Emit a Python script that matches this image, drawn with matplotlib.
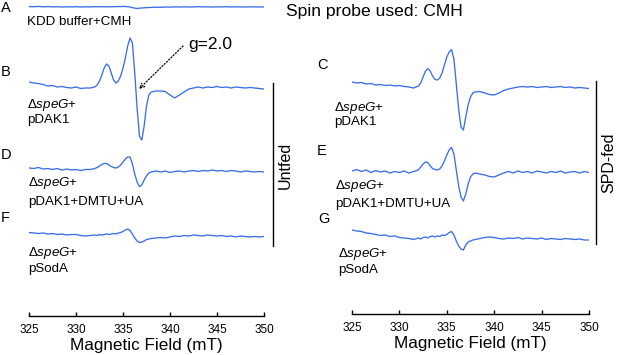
import matplotlib
matplotlib.use("Agg")
import matplotlib.pyplot as plt
from matplotlib.lines import Line2D

plt.rcParams['font.family'] = ['Liberation Sans', 'DejaVu Sans']
plt.rcParams['mathtext.fontset'] = 'custom'
plt.rcParams['mathtext.rm'] = 'Liberation Sans'
plt.rcParams['mathtext.it'] = 'Liberation Sans:italic'

# magnetic field grid (mT)
field = [325.0, 325.5, 326.0, 326.5, 327.0, 327.5, 328.0, 328.5, 329.0, 329.5,
         330.0, 330.5, 331.0, 331.5, 332.0,
         332.25, 332.5, 332.75, 333.0, 333.25, 333.5, 333.75, 334.0, 334.25, 334.5,
         334.75, 335.0, 335.25, 335.5, 335.75, 336.0, 336.25, 336.5, 336.75, 337.0,
         337.25, 337.5, 337.75, 338.0,
         338.5, 339.0, 339.5, 340.0, 340.5, 341.0, 341.5, 342.0, 342.5, 343.0,
         343.5, 344.0, 344.5, 345.0, 345.5, 346.0, 346.5, 347.0, 347.5, 348.0,
         348.5, 349.0, 349.5, 350.0]

# EPR signal (a.u.), one list per sample
sig_A = [0.5, 0.3, 0.6, 0.2, 0.4, 0.1, 0.3, 0.0, 0.2, 0.1,
         0.3, 0.0, 0.2, 0.1, 0.3,
         0.2, 0.4, 0.2, 0.3, 0.1, 0.3, 0.2, 0.4, 0.3, 0.5,
         0.4, 0.6, 0.5, 0.3, 0.0, -0.6, -1.2, -1.4, -1.2, -1.0,
         -0.8, -0.6, -0.5, -0.4,
         -0.2, -0.3, 0.0, -0.1, 0.1, 0.0, 0.2, 0.0, 0.1, 0.3,
         0.1, 0.2, 0.0, 0.2, 0.1, 0.3, 0.0, 0.2, 0.1, 0.0,
         0.2, 0.1, 0.0, 0.1]
sig_B = [6, 5, 4.5, 3.5, 2, 2.5, 1, 1.5, 0.5, 0,
         1, -0.5, 0, 0, 1,
         3, 7, 13, 20, 24, 22, 15, 8, 5, 7,
         12, 20, 30, 42, 50, 45, 15, -20, -48, -52,
         -38, -18, -7, -4,
         -3, -3, -3.5, -7, -10, -7, -4, -1, 0, 1,
         0, 1, 0.5, 1.5, 0.5, 1, 0, 1, 0.5, 0,
         0.5, 0, -0.5, -1]
sig_D = [2, 1.5, 2.5, 1, 1.5, 0.5, 1.5, 0, 1, 0,
         0.5, -0.5, 0.5, 0.5, 1.5,
         2.5, 4, 5.5, 6.5, 6.5, 5, 3.5, 2.5, 2, 3,
         5, 8, 11, 13, 13, 6, -4, -12, -16.5, -15,
         -10, -6, -3, -2,
         -1, -2, -1, -2.5, -1.5, -1, -2, -1, -0.5, -1.5,
         -0.5, -1, 0, -1, -0.5, -1.5, -0.5, -1, -2, -1,
         -1.5, -2, -1.5, -2]
sig_F = [2.5, 2, 1.5, 2, 1, 1.5, 0.5, 1, 0, 0.5,
         0.5, -0.5, -1, -0.5, 0,
         -0.5, 0.5, 0, 0.5, 1, 0.5, 1, 1.5, 1, 2,
         2.5, 3.5, 5, 6, 4.5, 1, -3, -6, -7.5, -7,
         -6, -4.5, -4, -3.5,
         -3, -2.5, -3, -2, -1, -1.5, -0.5, -1, 0, -0.5,
         -1, 0, -0.5, -1, -0.5, -1.5, -1, -2, -1, -1.5,
         -2, -1.5, -2, -1.5]
sig_C = [5, 4, 4.5, 3, 3.5, 2, 2.5, 1.5, 2, 1,
         1.5, 0.5, 0, -1, 1,
         4, 10, 16, 18.5, 16, 11, 7.5, 7, 9, 14,
         22, 30, 35, 37.5, 28, 3, -22, -40, -43, -30,
         -18, -10, -6, -5,
         -4.5, -6, -7.5, -8, -6, -3.5, -2, -1, 0, 0.5,
         0, 0.5, -0.5, 0, 0.5, -0.5, 0, 0.5, -0.5, 0,
         -1, -0.5, -1, -1.5]
sig_E = [1, 2.5, 0.5, 2, -0.5, 1.5, 0, 1, -1, 0.5,
         -0.5, 1, -1, 0.5, 2,
         5, 8, 10, 9.5, 6, 3.5, 2.5, 2, 3, 6,
         11, 17, 22, 24.5, 18, 2, -14, -25, -29, -22,
         -12, -5, -2, -1,
         -2, -3, -4.5, -5, -3, -1, 0.5, -1, 1, -0.5,
         0.5, -1, 1, 0, -1, 0.5, -0.5, 1, -1, 0,
         0.5, -1, 0.5, -0.5]
sig_G = [8, 7, 6.5, 5, 4.5, 3.5, 2.5, 3, 1.5, 2,
         0.5, 0, -0.5, -1.5, 0,
         -1, 0.5, 1, 0, 1.5, 2, 1, 2, 1.5, 3,
         2.5, 3.5, 5.5, 6.5, 3, -3, -8, -11, -12, -7,
         -4, -3, -2, -1.5,
         -0.5, 0.5, 1, 0.5, -0.5, -1, 0, -0.5, 0.5, -1,
         0, -0.5, -1, 0, -1.5, -0.5, -1, -1.5, -0.5, -1,
         -1.5, -1, -2, -2]

ticks = [325, 330, 335, 340, 345, 350]
left_traces = [(sig_A, -7), (sig_B, -88), (sig_D, -170), (sig_F, -235)]
right_traces = [(sig_C, -87), (sig_E, -172), (sig_G, -238)]

W, H = 617, 355
blue = '#3a6ee8'
fig = plt.figure(figsize=(W / 100, H / 100), dpi=100)


def px(x, y):
    return x / W, 1 - y / H


def panel(x0, x1, ybot, traces):
    ax = fig.add_axes([x0 / W, 1 - ybot / H, (x1 - x0) / W, ybot / H])
    for sig, off in traces:
        ax.plot(field, [v + off for v in sig], color=blue, lw=0.95)
    ax.set_xlim(325, 350)
    ax.set_ylim(-ybot, 0)
    for s in ['top', 'left', 'right']:
        ax.spines[s].set_visible(False)
    ax.spines['bottom'].set_linewidth(1.0)
    ax.set_yticks([])
    ax.set_xticks(ticks)
    ax.tick_params(axis='x', direction='in', length=3, width=1.0,
                   labelsize=8.5, pad=6)
    ax.set_xlabel('Magnetic Field (mT)', fontsize=12.3, labelpad=1)
    ax.patch.set_alpha(0)
    return ax


axL = panel(29, 264, 316, left_traces)
axR = panel(352, 589, 314, right_traces)


def label(x, y, s, size=9.6, **kw):
    fig.text(*px(x, y), s, fontsize=size, va='baseline', **kw)


speg = r'$\Delta\mathit{speG}$+'
# left column
label(1, 11.5, 'A', 10.5)
label(27, 25, 'KDD buffer+CMH')
label(1, 76, 'B', 10.5)
label(27, 107.5, speg)
label(27, 122.5, 'pDAK1')
label(1, 159, 'D', 10.5)
label(28, 186, speg)
label(28, 204.5, 'pDAK1+DMTU+UA')
label(1, 222, 'F', 10.5)
label(28, 256, speg)
label(28, 272, 'pSodA')
# right column
label(317, 69, 'C', 10.5)
label(334, 110.5, speg)
label(334, 125.5, 'pDAK1')
label(317, 155, 'E', 10.5)
label(335, 189.5, speg)
label(335, 206.5, 'pDAK1+DMTU+UA')
label(318, 223, 'G', 10.5)
label(338, 257.5, speg)
label(338, 273.5, 'pSodA')

label(286, 16, 'Spin probe used: CMH', 12.6)
label(188, 48.5, 'g=2.0', 12.5)

# dotted arrow to g=2.0
axL.annotate('', xy=px(139, 89), xycoords='figure fraction',
             xytext=px(183, 46), textcoords='figure fraction',
             arrowprops=dict(arrowstyle='->', color='black', lw=0.9,
                             linestyle=(0, (1, 1.5)), shrinkA=0, shrinkB=0,
                             mutation_scale=8))

# brackets with group labels
fig.add_artist(Line2D([273 / W, 273 / W], [1 - 83 / H, 1 - 246 / H], color='black', lw=1.0))
fig.add_artist(Line2D([596 / W, 596 / W], [1 - 81 / H, 1 - 244 / H], color='black', lw=1.0))
fig.text(*px(285, 165), 'Untfed', fontsize=11.5, rotation=90, ha='center', va='center')
fig.text(*px(609, 163), 'SPD-fed', fontsize=11.5, rotation=90, ha='center', va='center')

fig.savefig('out.png', dpi=100)
